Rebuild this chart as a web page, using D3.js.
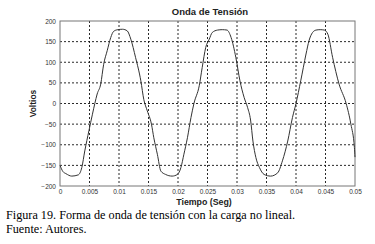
<!DOCTYPE html>
<html>
<head>
<meta charset="utf-8">
<script src="https://cdn.jsdelivr.net/npm/d3@7"></script>
<style>
  body { margin: 0; background: #fff; }
  svg { display: block; }
  .tick text { font-family: Arial, "Liberation Sans", sans-serif; }
</style>
</head>
<body>
<svg width="375" height="244"></svg>
<script>
const svg = d3.select("svg");

// waveform: time (s) and voltage (V)
const tiempo = [0, 0.0005, 0.001, 0.002, 0.0031, 0.0037, 0.0042, 0.0049, 0.0055, 0.0059, 0.0063,
  0.0069, 0.0074, 0.008, 0.0086, 0.0091, 0.0098, 0.0106, 0.0114, 0.012, 0.0128, 0.0137, 0.0142,
  0.0148, 0.0155, 0.0159, 0.0165, 0.0171, 0.0179, 0.019, 0.0199, 0.0205, 0.021, 0.0216, 0.0222,
  0.0227, 0.0236, 0.0241, 0.0247, 0.0253, 0.0258, 0.0267, 0.0275, 0.0283, 0.029, 0.0298, 0.0305,
  0.0312, 0.0318, 0.0323, 0.0327, 0.0332, 0.0338, 0.0346, 0.0357, 0.0369, 0.0377, 0.0386, 0.0394,
  0.04, 0.0408, 0.0417, 0.0422, 0.0428, 0.0434, 0.0441, 0.0448, 0.0454, 0.0462, 0.0473, 0.0485,
  0.0493, 0.0499, 0.05];
const voltios = [-150, -165, -170, -176, -173, -155, -115, -66, -26, 0, 23,
  47, 95, 128, 160, 175, 179, 180, 176, 156, 112, 55, 10,
  -18, -50, -83, -123, -164, -172, -176, -172, -155, -123, -83, -34,
  0, 43, 87, 136, 156, 172, 178, 179, 178, 160, 112, 55,
  15, -10, -40, -91, -131, -155, -172, -176, -168, -139, -91, -34,
  0, 55, 120, 152, 172, 178, 179, 178, 168, 112, 47, 0,
  -50, -107, -130];
const xTicks = [0, 0.005, 0.01, 0.015, 0.02, 0.025, 0.03, 0.035, 0.04, 0.045, 0.05];
const yTicks = [-200, -150, -100, -50, 0, 50, 100, 150, 200];
const titulo = "Onda de Tensión";
const xLabel = "Tiempo (Seg)";
const yLabel = "Voltios";
const caption = ["Figura 19. Forma de onda de tensión con la carga no lineal.", "Fuente: Autores."];

const data = tiempo.map((t, i) => ({ t: t, v: voltios[i] }));

const plot = { left: 60, right: 355, top: 21, bottom: 186 };

const x = d3.scaleLinear().domain([0, 0.05]).range([plot.left, plot.right]);
const y = d3.scaleLinear().domain([-200, 200]).range([plot.bottom, plot.top]);

// grid
const grid = svg.append("g");
grid.selectAll("line.vg")
  .data(xTicks.slice(1, -1))
  .enter().append("line")
  .attr("x1", (d) => x(d)).attr("x2", (d) => x(d))
  .attr("y1", plot.top).attr("y2", plot.bottom)
  .attr("stroke", "#111").attr("stroke-width", 0.9)
  .attr("stroke-dasharray", "2,2");
grid.selectAll("line.hg")
  .data(yTicks.slice(1, -1))
  .enter().append("line")
  .attr("x1", plot.left).attr("x2", plot.right)
  .attr("y1", (d) => y(d)).attr("y2", (d) => y(d))
  .attr("stroke", "#111").attr("stroke-width", 0.9)
  .attr("stroke-dasharray", "2,2");

// axes
const xAxis = d3.axisBottom(x).tickValues(xTicks).tickSize(0).tickPadding(3)
  .tickFormat((d) => (d === 0 ? "0" : String(+d.toFixed(3))));
svg.append("g").attr("transform", `translate(0,${plot.bottom})`).call(xAxis)
  .call((g) => g.select(".domain").remove())
  .selectAll("text").attr("font-size", 6.5).attr("fill", "#333");

const yAxis = d3.axisLeft(y).tickValues(yTicks).tickSize(0).tickPadding(4);
svg.append("g").attr("transform", `translate(${plot.left},0)`).call(yAxis)
  .call((g) => g.select(".domain").remove())
  .selectAll("text").attr("font-size", 6.5).attr("fill", "#333");

// box
svg.append("rect")
  .attr("x", plot.left).attr("y", plot.top)
  .attr("width", plot.right - plot.left).attr("height", plot.bottom - plot.top)
  .attr("fill", "none").attr("stroke", "#777").attr("stroke-width", 1);

// waveform
const line = d3.line().x((d) => x(d.t)).y((d) => y(d.v)).curve(d3.curveMonotoneX);
svg.append("path")
  .datum(data)
  .attr("d", line)
  .attr("fill", "none")
  .attr("stroke", "#333")
  .attr("stroke-width", 1);

// labels
svg.append("text")
  .attr("x", 210).attr("y", 15)
  .attr("text-anchor", "middle")
  .attr("font-family", "Arial, 'Liberation Sans', sans-serif")
  .attr("font-size", 9.5).attr("font-weight", "bold").attr("fill", "#222")
  .text(titulo);

svg.append("text")
  .attr("x", 204).attr("y", 204.5)
  .attr("text-anchor", "middle")
  .attr("font-family", "Arial, 'Liberation Sans', sans-serif")
  .attr("font-size", 8.8).attr("font-weight", "bold").attr("fill", "#222")
  .text(xLabel);

svg.append("text")
  .attr("transform", `translate(36,${(plot.top + plot.bottom) / 2}) rotate(-90)`)
  .attr("text-anchor", "middle")
  .attr("font-family", "Arial, 'Liberation Sans', sans-serif")
  .attr("font-size", 8.5).attr("font-weight", "bold").attr("fill", "#222")
  .text(yLabel);

// caption
svg.selectAll("text.cap")
  .data(caption)
  .enter().append("text")
  .attr("class", "cap")
  .attr("x", 6).attr("y", (d, i) => 218.5 + i * 14)
  .attr("font-family", "'Liberation Serif', 'Times New Roman', serif")
  .attr("font-size", 12.2).attr("fill", "#000")
  .text((d) => d);
</script>
</body>
</html>
